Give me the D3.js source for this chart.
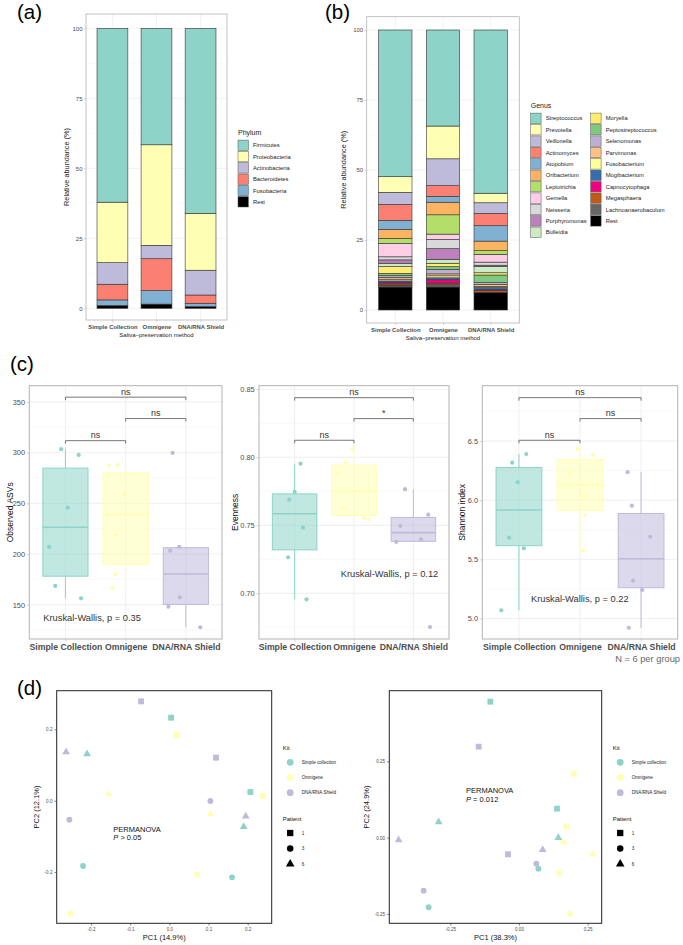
<!DOCTYPE html>
<html>
<head>
<meta charset="utf-8">
<script src="https://cdn.jsdelivr.net/npm/d3@7"></script>
<style>
    body { margin: 0; background: #fff; }
    svg { display: block; font-family: "Liberation Sans", Arial, sans-serif; }
</style>
</head>
<body>
<svg id="fig" width="683" height="945"></svg>
<script>
// ---- data ----
const methods = ['Simple Collection', 'Omnigene', 'DNA/RNA Shield'];
const kitColors = ['#8DD3C7', '#FFFFB3', '#BEBADA'];

// (a) phylum composition, one row per method, in phyla order (top of bar first)
const phyla = ['Firmicutes', 'Proteobacteria', 'Actinobacteria', 'Bacteroidetes', 'Fusobacteria', 'Rest'];
const phylumColors = ['#8DD3C7', '#FFFFB3', '#BEBADA', '#FB8072', '#80B1D3', '#000000'];
const phylumAbundance = [
    [62.1, 21.6, 7.7, 5.6, 2.0, 1.0],
    [41.6, 35.9, 4.8, 11.4, 4.8, 1.5],
    [66.1, 20.3, 8.85, 2.95, 1.2, 0.6],
];

// (b) genus composition
const genera = ['Streptococcus', 'Prevotella', 'Veillonella', 'Actinomyces', 'Atopobium', 'Oribacterium',
    'Leptotrichia', 'Gemella', 'Neisseria', 'Porphyromonas', 'Bulleidia', 'Moryella', 'Peptostreptococcus',
    'Selenomonas', 'Parvimonas', 'Fusobacterium', 'Mogibacterium', 'Capnocytophaga', 'Megasphaera',
    'Lachnoanaerobaculum', 'Rest'];
const genusColors = ['#8DD3C7', '#FFFFB3', '#BEBADA', '#FB8072', '#80B1D3', '#FDB462', '#B3DE69', '#FCCDE5',
    '#D9D9D9', '#BC80BD', '#CCEBC5', '#FFED6F', '#7FC97F', '#BEAED4', '#FDC086', '#FFFF99', '#386CB0',
    '#F0027F', '#BF5B17', '#666666', '#000000'];
const genusAbundance = [
    [52.4, 5.6, 4.3, 5.7, 3.2, 3.2, 1.8, 4.8, 1.1, 1.2, 1.2, 2.4, 0.8, 0.6, 0.7, 0.6, 0.5, 0.6, 0.5, 0.6, 8.2],
    [34.3, 11.7, 9.6, 3.8, 2.1, 4.5, 6.9, 1.9, 3.3, 3.8, 1.4, 1.2, 1.0, 1.6, 0.7, 0.7, 0.7, 1.2, 0.6, 0.8, 8.2],
    [58.3, 3.4, 3.8, 4.4, 5.5, 3.4, 1.3, 2.8, 1.1, 0.5, 2.2, 0.8, 2.75, 0.6, 0.7, 0.4, 0.8, 0.3, 0.7, 0.1, 6.15],
];
const abundanceTicks = [0, 25, 50, 75, 100];
const abundanceMinor = [12.5, 37.5, 62.5, 87.5];

// (c) alpha diversity, six samples per method; jitter = horizontal offset in category steps
const observedASVs = [
    [303.4, 297.7, 245.7, 207.0, 168.5, 156.3],
    [287.2, 287.9, 258.9, 218.8, 180.0, 166.8],
    [299.7, 207.2, 203.3, 157.3, 148.0, 127.7],
];
const observedJitter = [
    [-0.07, 0.22, 0.04, -0.27, -0.17, 0.26],
    [-0.28, -0.13, -0.03, -0.17, -0.17, -0.22],
    [-0.22, -0.11, -0.26, -0.10, -0.29, 0.24],
];
const evenness = [
    [0.7953, 0.7745, 0.7688, 0.7482, 0.7265, 0.6956],
    [0.8061, 0.7963, 0.7877, 0.7625, 0.7554, 0.7544],
    [0.7765, 0.7578, 0.7495, 0.7397, 0.7377, 0.6752],
];
const evennessJitter = [
    [0.10, 0.0, -0.09, 0.14, -0.11, 0.20],
    [-0.03, -0.14, -0.26, -0.18, 0.17, 0.24],
    [-0.14, 0.25, -0.22, 0.13, -0.29, 0.28],
];
const shannon = [
    [6.390, 6.317, 6.151, 5.683, 5.593, 5.070],
    [6.432, 6.381, 6.223, 6.036, 5.873, 5.573],
    [6.236, 5.953, 5.691, 5.320, 5.241, 4.922],
];
const shannonJitter = [
    [0.12, -0.11, -0.02, -0.16, 0.08, -0.29],
    [-0.04, 0.21, -0.18, 0.03, 0.08, 0.05],
    [-0.22, -0.15, 0.15, -0.13, 0.02, -0.20],
];
const observedTicks = [150, 200, 250, 300, 350];
const observedMinor = [125, 175, 225, 275, 325];
const evennessTicks = [0.70, 0.75, 0.80, 0.85];
const evennessMinor = [0.675, 0.725, 0.775, 0.825];
const shannonTicks = [5.0, 5.5, 6.0, 6.5];
const shannonMinor = [5.25, 5.75, 6.25, 6.75];
// pairwise comparisons: SC vs Omnigene, Omnigene vs DNA/RNA, SC vs DNA/RNA
const comparisons = [[0, 1], [1, 2], [0, 2]];
const observedSignif = ['ns', 'ns', 'ns'];
const evennessSignif = ['ns', '*', 'ns'];
const shannonSignif = ['ns', 'ns', 'ns'];
const observedBracketY = [311.8, 333.6, 354.7];
const evennessBracketY = [0.8125, 0.8284, 0.8438];
const shannonBracketY = [6.506, 6.689, 6.866];

// (d) PCoA, samples: kit index, patient index, coordinates
const kits = ['Simple collection', 'Omnigene', 'DNA/RNA Shield'];
const patients = ['1', '3', '6'];
const pcoaKit = [0, 0, 0, 0, 0, 0, 1, 1, 1, 1, 1, 1, 2, 2, 2, 2, 2, 2];
const pcoaPatient = [0, 0, 1, 1, 2, 2, 0, 0, 1, 1, 2, 2, 0, 0, 1, 1, 2, 2];
const pcoaLeftPC1 = [0.0043, 0.2068, -0.2204, 0.16, -0.2102, 0.1898,
    0.0187, 0.2374, 0.0706, -0.2528, -0.1557, 0.1047,
    -0.0723, 0.1191, 0.1047, -0.2553, -0.2638, 0.1949];
const pcoaLeftPC2 = [0.2327, 0.0243, -0.1832, -0.215, 0.1308, -0.0729,
    0.184, 0.0131, -0.2075, -0.3168, 0.0178, -0.0374,
    0.2785, 0.1206, -0.0009, -0.0533, 0.1364, -0.0439];
const pcoaRightPC1 = [-0.1044, 0.1383, 0.0704, -0.3289, -0.2925, 0.1432,
    0.199, 0.1723, 0.1456, 0.1857, 0.1626, 0.267,
    -0.1468, -0.04, 0.0631, -0.3471, -0.4381, 0.0862];
const pcoaRightPC2 = [0.4454, 0.095, -0.1015, -0.2282, 0.0513, 0.0,
    0.2096, 0.036, -0.1157, -0.25, -0.0142, -0.0546,
    0.298, -0.0546, -0.0852, -0.1736, -0.0076, -0.0393];
const pcoaLeftXTicks = [-0.2, -0.1, 0.0, 0.1, 0.2];
const pcoaLeftYTicks = [-0.2, 0.0, 0.2];
const pcoaRightTicks = [-0.25, 0.0, 0.25];

// ---- drawing ----
const svg = d3.select('#fig');
const FONT = '"Liberation Sans", Arial, sans-serif';
const GRID = '#ebebeb';
const GRID_MINOR = '#f5f5f5';
const BORDER = '#b3b3b3';
const TICK_TEXT = '#4d4d4d';
const hyphen = f => v => f(v).replace('\u2212', '-');

function styleAxis(axisG, size, color, weight, tickColor) {
    axisG.attr('font-family', FONT).attr('font-size', size);
    axisG.select('.domain').remove();
    axisG.selectAll('.tick line').attr('stroke', tickColor).attr('stroke-width', 0.6);
    axisG.selectAll('.tick text').attr('fill', color).attr('font-weight', weight);
}

function hLines(g, values, y, x0, x1, color, width) {
    g.append('g').selectAll('line').data(values).join('line')
        .attr('x1', x0).attr('x2', x1)
        .attr('y1', d => y(d)).attr('y2', d => y(d))
        .attr('stroke', color).attr('stroke-width', width);
}

function vLines(g, values, x, y0, y1, color, width) {
    g.append('g').selectAll('line').data(values).join('line')
        .attr('x1', d => x(d)).attr('x2', d => x(d))
        .attr('y1', y0).attr('y2', y1)
        .attr('stroke', color).attr('stroke-width', width);
}

// panel letters
[['(a)', 17, 18.5], ['(b)', 325, 18.5], ['(c)', 10, 371], ['(d)', 17, 695]].forEach(([t, x, y]) => {
    svg.append('text').attr('x', x).attr('y', y).attr('font-family', FONT)
        .attr('font-size', 20.5).attr('fill', '#000').text(t);
});

function stackedPanel(cfg) {
    const g = svg.append('g');
    const x = d3.scalePoint().domain(methods).range([cfg.left, cfg.right]).padding(0.6);
    const y = d3.scaleLinear().domain([0, 100]).range([cfg.zeroY, cfg.fullY]);
    const barW = x.step() * 0.7;

    hLines(g, abundanceMinor, y, cfg.left, cfg.right, GRID_MINOR, 0.5);
    hLines(g, abundanceTicks, y, cfg.left, cfg.right, GRID, 0.7);
    vLines(g, methods, x, cfg.top, cfg.bottom, GRID, 0.7);

    const table = methods.map((m, i) => {
        const row = { method: m };
        cfg.keys.forEach((k, j) => { row[k] = cfg.values[i][j]; });
        return row;
    });
    const series = d3.stack().keys(cfg.keys.slice().reverse())(table);
    const color = d3.scaleOrdinal().domain(cfg.keys).range(cfg.colors);

    g.append('g').selectAll('g').data(series).join('g')
        .attr('fill', d => color(d.key))
        .selectAll('rect').data(d => d).join('rect')
        .attr('x', d => x(d.data.method) - barW / 2)
        .attr('width', barW)
        .attr('y', d => y(d[1]))
        .attr('height', d => y(d[0]) - y(d[1]))
        .attr('stroke', '#333').attr('stroke-width', 0.6);

    g.append('rect').attr('x', cfg.left).attr('y', cfg.top)
        .attr('width', cfg.right - cfg.left).attr('height', cfg.bottom - cfg.top)
        .attr('fill', 'none').attr('stroke', BORDER).attr('stroke-width', 0.8);

    const ay = g.append('g').attr('transform', `translate(${cfg.left},0)`)
        .call(d3.axisLeft(y).tickValues(abundanceTicks).tickSize(2).tickPadding(1.5));
    styleAxis(ay, 6, TICK_TEXT, 'normal', BORDER);

    const ax = g.append('g').attr('transform', `translate(0,${cfg.bottom})`)
        .call(d3.axisBottom(x).tickSize(2).tickPadding(3));
    styleAxis(ax, 5.9, TICK_TEXT, 'bold', BORDER);

    g.append('text').attr('x', (cfg.left + cfg.right) / 2).attr('y', cfg.bottom + 17)
        .attr('text-anchor', 'middle').attr('font-size', 6).attr('fill', '#222')
        .text('Saliva\u2013preservation method');
    g.append('text')
        .attr('transform', `translate(${cfg.titleX},${(cfg.top + cfg.bottom) / 2}) rotate(-90)`)
        .attr('text-anchor', 'middle').attr('font-size', 7.3).attr('fill', '#222')
        .text('Relative abundance (%)');

    // legend
    const lg = g.append('g');
    lg.append('text').attr('x', cfg.legendX).attr('y', cfg.legendY).attr('dy', '0.35em')
        .attr('font-size', 7).attr('fill', '#222').text(cfg.legendTitle);
    const rows = cfg.legendRows;
    const items = lg.selectAll('g.item').data(cfg.keys).join('g')
        .attr('transform', (d, i) => {
            const col = Math.floor(i / rows), row = i % rows;
            return `translate(${cfg.legendX + col * cfg.legendColW},${cfg.legendY + 12.3 + row * cfg.legendStep})`;
        });
    items.append('rect').attr('x', 0).attr('y', -5.2).attr('width', 10.4).attr('height', 10.4)
        .attr('fill', d => color(d)).attr('stroke', '#555').attr('stroke-width', 0.5);
    items.append('text').attr('x', 15).attr('dy', '0.35em').attr('font-size', 5.8)
        .attr('fill', '#222').text(d => d);
}

stackedPanel({
    left: 86, right: 227, top: 14, bottom: 320, zeroY: 308.3, fullY: 28.3, titleX: 68.5,
    keys: phyla, colors: phylumColors, values: phylumAbundance,
    legendTitle: 'Phylum', legendX: 238, legendY: 133, legendRows: 6, legendStep: 11.3, legendColW: 0,
});
stackedPanel({
    left: 366.7, right: 519.3, top: 16.7, bottom: 323, zeroY: 310, fullY: 30, titleX: 346,
    keys: genera, colors: genusColors, values: genusAbundance,
    legendTitle: 'Genus', legendX: 530.7, legendY: 106, legendRows: 11, legendStep: 11.4, legendColW: 60,
});

function diversityPanel(p) {
    const g = svg.append('g');
    const x = d3.scalePoint().domain(methods).range([p.left, p.right]).padding(0.6);
    const y = d3.scaleLinear().domain(p.domain).range([p.bottom, p.top]);
    const step = x.step();

    hLines(g, p.minor, y, p.left, p.right, GRID_MINOR, 0.6);
    hLines(g, p.ticks, y, p.left, p.right, GRID, 0.8);
    vLines(g, methods, x, p.top, p.bottom, GRID, 0.8);

    p.values.forEach((vals, i) => {
        const s = vals.slice().sort(d3.ascending);
        const q1 = d3.quantile(s, 0.25);
        const med = d3.quantile(s, 0.5);
        const q3 = d3.quantile(s, 0.75);
        const iqr = q3 - q1;
        const lo = d3.min(s.filter(v => v >= q1 - 1.5 * iqr));
        const hi = d3.max(s.filter(v => v <= q3 + 1.5 * iqr));
        const cx = x(methods[i]);
        const w = step * 0.75;
        const c = kitColors[i];
        g.append('line').attr('x1', cx).attr('x2', cx).attr('y1', y(hi)).attr('y2', y(q3))
            .attr('stroke', c).attr('stroke-width', 1);
        g.append('line').attr('x1', cx).attr('x2', cx).attr('y1', y(q1)).attr('y2', y(lo))
            .attr('stroke', c).attr('stroke-width', 1);
        g.append('rect').attr('x', cx - w / 2).attr('width', w)
            .attr('y', y(q3)).attr('height', y(q1) - y(q3))
            .attr('fill', c).attr('fill-opacity', 0.55)
            .attr('stroke', c).attr('stroke-width', 1);
        g.append('line').attr('x1', cx - w / 2).attr('x2', cx + w / 2)
            .attr('y1', y(med)).attr('y2', y(med))
            .attr('stroke', c).attr('stroke-width', 1.6);
    });

    const pts = [];
    p.values.forEach((vals, i) => vals.forEach((v, j) => pts.push({ i, v, dx: p.jitter[i][j] })));
    g.append('g').selectAll('circle').data(pts).join('circle')
        .attr('cx', d => x(methods[d.i]) + d.dx * step)
        .attr('cy', d => y(d.v))
        .attr('r', 2.1)
        .attr('fill', d => kitColors[d.i]);

    // significance brackets
    comparisons.forEach((pr, k) => {
        const yy = y(p.bracketY[k]);
        const x1 = x(methods[pr[0]]), x2 = x(methods[pr[1]]);
        g.append('path').attr('d', `M${x1},${yy + 3}V${yy}H${x2}V${yy + 3}`)
            .attr('fill', 'none').attr('stroke', '#555').attr('stroke-width', 0.8);
        g.append('text').attr('x', (x1 + x2) / 2).attr('y', yy - 2.6)
            .attr('text-anchor', 'middle').attr('font-size', 9).attr('fill', '#333')
            .text(p.signif[k]);
    });

    g.append('text').attr('x', p.kwX).attr('y', p.kwY).attr('dy', '0.35em')
        .attr('font-size', 9.3).attr('fill', '#333').text(p.kw);

    g.append('rect').attr('x', p.left).attr('y', p.top)
        .attr('width', p.right - p.left).attr('height', p.bottom - p.top)
        .attr('fill', 'none').attr('stroke', BORDER).attr('stroke-width', 1);

    const ay = g.append('g').attr('transform', `translate(${p.left},0)`)
        .call(d3.axisLeft(y).tickValues(p.ticks).tickFormat(p.fmt).tickSize(2.5).tickPadding(1.8));
    styleAxis(ay, 7.4, TICK_TEXT, 'normal', BORDER);

    const ax = g.append('g').attr('transform', `translate(0,${p.bottom})`)
        .call(d3.axisBottom(x).tickSize(2.5).tickPadding(2));
    styleAxis(ax, 8.7, TICK_TEXT, 'bold', BORDER);

    g.append('text')
        .attr('transform', `translate(${p.titleX},${(p.top + p.bottom) / 2}) rotate(-90)`)
        .attr('text-anchor', 'middle').attr('font-size', 8.5).attr('fill', '#111')
        .text(p.title);
}

diversityPanel({
    left: 29.3, right: 222, top: 385.7, bottom: 639, domain: [116.2, 366], titleX: 12.5,
    ticks: observedTicks, minor: observedMinor, fmt: d3.format('d'), title: 'Observed ASVs',
    values: observedASVs, jitter: observedJitter, signif: observedSignif, bracketY: observedBracketY,
    kw: 'Kruskal-Wallis, p = 0.35', kwX: 43.3, kwY: 617.3,
});
diversityPanel({
    left: 259, right: 449, top: 385.7, bottom: 639, domain: [0.6664, 0.8526], titleX: 238,
    ticks: evennessTicks, minor: evennessMinor, fmt: d3.format('.2f'), title: 'Evenness',
    values: evenness, jitter: evennessJitter, signif: evennessSignif, bracketY: evennessBracketY,
    kw: 'Kruskal-Wallis, p = 0.12', kwX: 340.7, kwY: 573.3,
});
diversityPanel({
    left: 482.3, right: 677.7, top: 385.7, bottom: 639, domain: [4.827, 6.967], titleX: 464.5,
    ticks: shannonTicks, minor: shannonMinor, fmt: d3.format('.1f'), title: 'Shannon index',
    values: shannon, jitter: shannonJitter, signif: shannonSignif, bracketY: shannonBracketY,
    kw: 'Kruskal-Wallis, p = 0.22', kwX: 531, kwY: 599,
});
svg.append('text').attr('x', 680).attr('y', 658.3).attr('dy', '0.35em')
    .attr('text-anchor', 'end').attr('font-family', FONT).attr('font-size', 9.3)
    .attr('fill', '#666').text('N = 6 per group');

const shapeTypes = [d3.symbolSquare, d3.symbolCircle, d3.symbolTriangle];
const shapeSizes = [34, 27, 26];

function pcoaPanel(p) {
    const g = svg.append('g');
    const x = d3.scaleLinear().domain(p.xDomain).range([p.left, p.right]);
    const y = d3.scaleLinear().domain(p.yDomain).range([p.bottom, p.top]);

    const pts = p.pc1.map((v, i) => ({ x: v, y: p.pc2[i], kit: pcoaKit[i], patient: pcoaPatient[i] }));
    g.append('g').selectAll('path').data(pts).join('path')
        .attr('transform', d => `translate(${x(d.x)},${y(d.y)})`)
        .attr('d', d => d3.symbol(shapeTypes[d.patient], shapeSizes[d.patient])())
        .attr('fill', d => kitColors[d.kit]);

    g.append('rect').attr('x', p.left).attr('y', p.top)
        .attr('width', p.right - p.left).attr('height', p.bottom - p.top)
        .attr('fill', 'none').attr('stroke', '#222').attr('stroke-width', 1);

    const ax = g.append('g').attr('transform', `translate(0,${p.bottom})`)
        .call(d3.axisBottom(x).tickValues(p.xTicks).tickFormat(hyphen(d3.format(p.fmt))).tickSize(2.2).tickPadding(2.5));
    styleAxis(ax, 4.6, TICK_TEXT, 'normal', '#333');
    const ay = g.append('g').attr('transform', `translate(${p.left},0)`)
        .call(d3.axisLeft(y).tickValues(p.yTicks).tickFormat(hyphen(d3.format(p.fmt))).tickSize(2.2).tickPadding(2));
    styleAxis(ay, 4.6, TICK_TEXT, 'normal', '#333');

    g.append('text').attr('x', (p.left + p.right) / 2).attr('y', 937.3).attr('dy', '0.35em')
        .attr('text-anchor', 'middle').attr('font-family', FONT).attr('font-size', 7.5)
        .attr('fill', '#111').text(p.xTitle);
    g.append('text')
        .attr('transform', `translate(${p.yTitleX},${(p.top + p.bottom) / 2}) rotate(-90)`)
        .attr('text-anchor', 'middle').attr('font-family', FONT).attr('font-size', 7.5)
        .attr('fill', '#111').text(p.yTitle);

    const perm = g.append('text').attr('font-family', FONT).attr('font-size', 7.5).attr('fill', '#111');
    perm.append('tspan').attr('x', p.permX).attr('y', p.permY).text('PERMANOVA');
    const line2 = perm.append('tspan').attr('x', p.permX).attr('y', p.permY + 8.5);
    line2.append('tspan').attr('font-style', 'italic').text('P');
    line2.append('tspan').text(p.permP);

    // legends
    const lx = p.legendX;
    g.append('text').attr('x', lx).attr('y', 747.7).attr('dy', '0.35em')
        .attr('font-family', FONT).attr('font-size', 6).attr('fill', '#111').text('Kit');
    const kitRows = g.append('g').selectAll('g').data(kits).join('g')
        .attr('transform', (d, i) => `translate(${lx},${762.3 + i * 15.2})`);
    kitRows.append('path').attr('transform', 'translate(7.5,0)')
        .attr('d', d3.symbol(d3.symbolCircle, 36)()).attr('fill', (d, i) => kitColors[i]);
    kitRows.append('text').attr('x', 19).attr('dy', '0.35em').attr('font-family', FONT)
        .attr('font-size', 4.6).attr('fill', '#222').text(d => d);

    g.append('text').attr('x', lx).attr('y', 819).attr('dy', '0.35em')
        .attr('font-family', FONT).attr('font-size', 6).attr('fill', '#111').text('Patient');
    const patRows = g.append('g').selectAll('g').data(patients).join('g')
        .attr('transform', (d, i) => `translate(${lx},${833 + i * 15.5})`);
    patRows.append('path').attr('transform', 'translate(7.5,0)')
        .attr('d', (d, i) => d3.symbol(shapeTypes[i], shapeSizes[i] + 6)()).attr('fill', '#000');
    patRows.append('text').attr('x', 19).attr('dy', '0.35em').attr('font-family', FONT)
        .attr('font-size', 4.6).attr('fill', '#222').text(d => d);
}

pcoaPanel({
    left: 56.7, right: 271.7, top: 690.7, bottom: 923.3,
    xDomain: [-0.2877, 0.2613], yDomain: [-0.3439, 0.3084],
    xTicks: pcoaLeftXTicks, yTicks: pcoaLeftYTicks, fmt: '.1f',
    pc1: pcoaLeftPC1, pc2: pcoaLeftPC2,
    xTitle: 'PC1 (14.9%)', yTitle: 'PC2 (12.1%)', yTitleX: 38.5,
    permX: 113.3, permY: 831.7, permP: ' > 0.05', legendX: 282.7,
});
pcoaPanel({
    left: 389.3, right: 601.7, top: 690.7, bottom: 923.3,
    xDomain: [-0.4721, 0.301], yDomain: [-0.2806, 0.4814],
    xTicks: pcoaRightTicks, yTicks: pcoaRightTicks, fmt: '.2f',
    pc1: pcoaRightPC1, pc2: pcoaRightPC2,
    xTitle: 'PC1 (38.3%)', yTitle: 'PC2 (24.9%)', yTitleX: 369,
    permX: 466, permY: 793.4, permP: ' = 0.012', legendX: 612.7,
});
</script>
</body>
</html>
